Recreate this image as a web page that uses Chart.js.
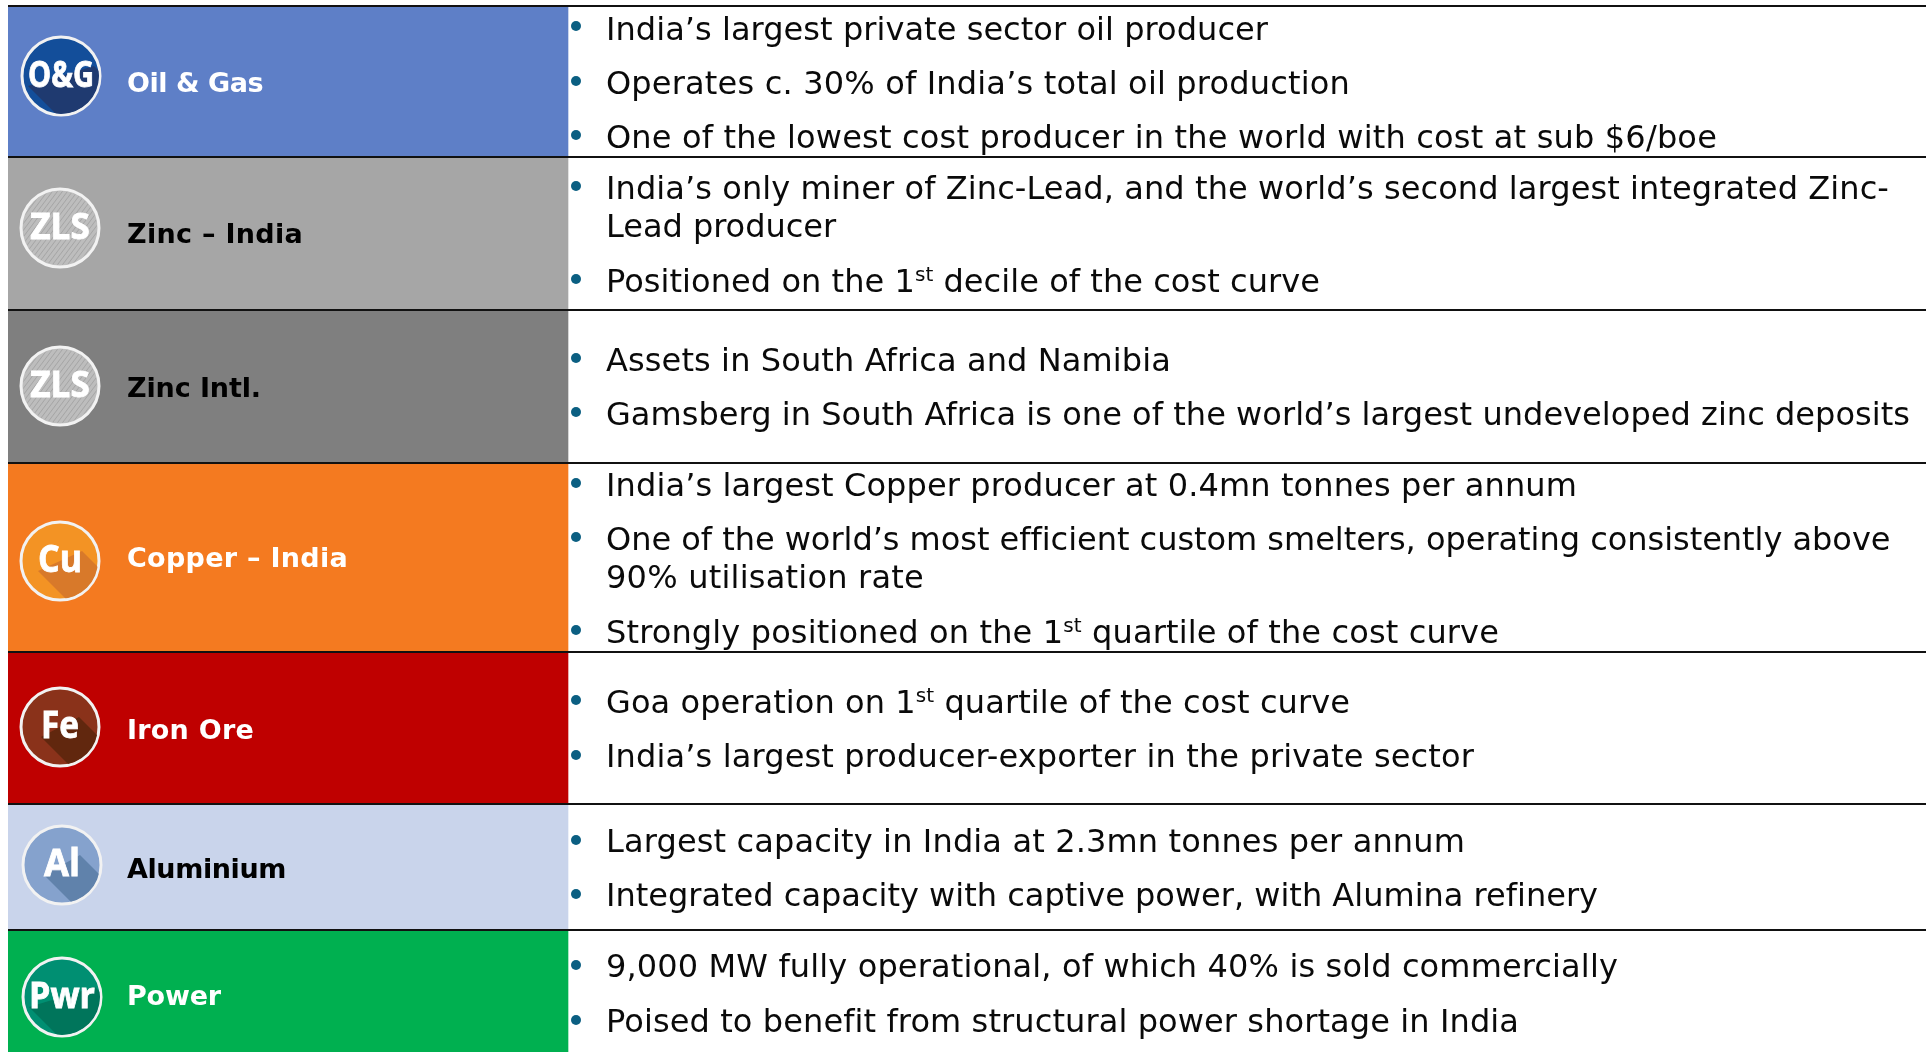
<!DOCTYPE html>
<html>
<head>
<meta charset="utf-8">
<title>Business overview</title>
<script src="https://cdn.jsdelivr.net/npm/chart.js@4"></script>
<style>
  html,body{margin:0;padding:0;background:#fff;overflow:hidden}
  canvas{display:block}
</style>
</head>
<body>
<canvas id="panel" width="1926" height="1052"></canvas>
<script>
// rows
const rowNames = ['Oil & Gas','Zinc – India','Zinc Intl.','Copper – India','Iron Ore','Aluminium','Power'];
const iconCodes = ['O&G','ZLS','ZLS','Cu','Fe','Al','Pwr'];
const rowEdges = [6,157,310,463,652,804,930,1052];

// bullet text, ^st^ marks a superscript
const bodyLines = [
  'India’s largest private sector oil producer',
  'Operates c. 30% of India’s total oil production',
  'One of the lowest cost producer in the world with cost at sub $6/boe',
  'India’s only miner of Zinc-Lead, and the world’s second largest integrated Zinc-',
  'Lead producer',
  'Positioned on the 1^st^ decile of the cost curve',
  'Assets in South Africa and Namibia',
  'Gamsberg in South Africa is one of the world’s largest undeveloped zinc deposits',
  'India’s largest Copper producer at 0.4mn tonnes per annum',
  'One of the world’s most efficient custom smelters, operating consistently above',
  '90% utilisation rate',
  'Strongly positioned on the 1^st^ quartile of the cost curve',
  'Goa operation on 1^st^ quartile of the cost curve',
  'India’s largest producer-exporter in the private sector',
  'Largest capacity in India at 2.3mn tonnes per annum',
  'Integrated capacity with captive power, with Alumina refinery',
  '9,000 MW fully operational, of which 40% is sold commercially',
  'Poised to benefit from structural power shortage in India'
];

// layout, in scale units (1 unit = 1px)
const bodyBaselines = [40,94,148,199,237,292,371,425,496,550,588,643,713,767,852,906,977,1032];
const bodyEnds = [1268,1350,1717,1889,836,1320,1171,1910,1577,1890,924,1499,1350,1474,1465,1598,1618,1519];
const bulletRows = [26,81,135,186,279,358,412,483,537,630,700,755,840,894,965,1020];
const labelBaselines = [92,243,397,567,739,878,1005];
const labelEnds = [263,303,261,348,254,286,221];
const iconX = [61,60,60,60,60,62,62];
const iconY = [76,228,386,561,727,865,997];
const iconWidths = [66,60,60,44,38,36,66];

const rowColors = ['#5e7fc7','#a6a6a6','#7f7f7f','#f47a20','#bf0000','#c9d4eb','#00b050'];
const labelColors = ['#fff','#000','#000','#fff','#fff','#000','#fff'];
const iconColors = ['#134e9a','#bdbdbd','#bdbdbd','#f39324','#8a321a','#85a2cd','#008f72'];
const shadowColors = ['#1f3a70',null,null,'#d8792a','#61270e','#6082ab','#00755b'];

const PANEL_LEFT = 8, PANEL_RIGHT = 568, TEXT_X = 606, LABEL_X = 127, BULLET_X = 576;
const BODY_FONT = 32, LABEL_FONT = 27, ICON_R = 39;

function bodyFont(sup){
  return (sup ? 20 : BODY_FONT)+'px "DejaVu Sans"';
}

// draws one line so that it ends where the reference line ends
function drawBodyLine(ctx, line, x, y, end){
  const parts = line.split('^');
  let natural = 0, chars = 0;
  ctx.letterSpacing = '0px';
  parts.forEach((p,i)=>{
    ctx.font = bodyFont(i%2===1);
    natural += ctx.measureText(p).width;
    chars += p.length;
  });
  ctx.letterSpacing = ((end-x-natural)/chars)+'px';
  parts.forEach((p,i)=>{
    const sup = i%2===1;
    ctx.font = bodyFont(sup);
    ctx.fillText(p, x, sup ? y-BODY_FONT*0.34 : y);
    x += ctx.measureText(p).width;
  });
  ctx.letterSpacing = '0px';
}

function drawCoin(ctx, cx, cy){
  // scratched silver coin behind the ZLS code
  ctx.save();
  ctx.beginPath(); ctx.arc(cx,cy,ICON_R-2,0,Math.PI*2); ctx.clip();
  ctx.strokeStyle='rgba(120,120,120,0.35)'; ctx.lineWidth=1;
  for(let d=-60;d<60;d+=5){
    ctx.beginPath(); ctx.moveTo(cx+d-30,cy+40); ctx.lineTo(cx+d+30,cy-40); ctx.stroke();
  }
  ctx.restore();
}

const textPlugin = {
  id:'textPlugin',
  afterDatasetsDraw(chart){
    const ctx = chart.ctx, xS = chart.scales.x, yS = chart.scales.y;
    ctx.save();
    ctx.textAlign='left'; ctx.textBaseline='alphabetic';

    rowNames.forEach((name,i)=>{
      const cx = xS.getPixelForValue(iconX[i]), cy = yS.getPixelForValue(iconY[i]);
      const code = iconCodes[i];
      const w = iconWidths[i];
      if(shadowColors[i]){
        ctx.save();
        ctx.beginPath(); ctx.arc(cx,cy,ICON_R-1,0,Math.PI*2); ctx.clip();
        ctx.fillStyle = shadowColors[i];
        ctx.beginPath();
        ctx.moveTo(cx+w/2,cy-10); ctx.lineTo(cx+w/2+70,cy+60);
        ctx.lineTo(cx-w/2+70,cy+80); ctx.lineTo(cx-w/2,cy+10);
        ctx.closePath(); ctx.fill();
        ctx.restore();
      } else {
        drawCoin(ctx,cx,cy);
      }
      ctx.textAlign='center';
      ctx.fillStyle='#fff'; ctx.strokeStyle='#fff'; ctx.lineWidth=0.8;
      ctx.font='bold '+(code.length>2 ? 35 : 37)+'px "Open Sans"';
      ctx.fillText(code,cx,cy+11,w);
      ctx.strokeText(code,cx,cy+11,w);
      ctx.textAlign='left';

      const lx = xS.getPixelForValue(LABEL_X);
      ctx.fillStyle=labelColors[i];
      ctx.font='bold '+LABEL_FONT+'px "DejaVu Sans"';
      ctx.letterSpacing = ((xS.getPixelForValue(labelEnds[i])-lx-ctx.measureText(name).width)/name.length)+'px';
      ctx.fillText(name,lx,yS.getPixelForValue(labelBaselines[i]));
      ctx.letterSpacing = '0px';
    });

    ctx.fillStyle='#0a0a0a';
    bodyLines.forEach((line,i)=>{
      drawBodyLine(ctx,line,xS.getPixelForValue(TEXT_X),yS.getPixelForValue(bodyBaselines[i]),xS.getPixelForValue(bodyEnds[i]));
    });
    ctx.restore();
  }
};

new Chart(document.getElementById('panel').getContext('2d'),{
  type:'bar',
  data:{
    datasets:[
      { type:'scatter', data:bulletRows.map(y=>({x:BULLET_X,y})), pointRadius:5, pointHoverRadius:5,
        backgroundColor:'#0b5f82', borderWidth:0, order:0 },
      { type:'scatter', data:iconX.map((x,i)=>({x,y:iconY[i]})), pointRadius:ICON_R, pointHoverRadius:ICON_R,
        backgroundColor:iconColors, borderColor:'#f2f2f2', borderWidth:3, order:1 },
      { type:'bar', data:rowNames.map((n,i)=>({x:(PANEL_LEFT+PANEL_RIGHT)/2,y:[rowEdges[i],rowEdges[i+1]]})),
        backgroundColor:rowColors, barThickness:PANEL_RIGHT-PANEL_LEFT, borderWidth:0, order:2 }
    ]
  },
  options:{
    responsive:false, animation:false,
    layout:{ autoPadding:false, padding:{left:PANEL_LEFT,right:0,top:0,bottom:0} },
    plugins:{ legend:{display:false}, tooltip:{enabled:false} },
    events:[],
    scales:{
      x:{ type:'linear', offset:false, min:PANEL_LEFT, max:1926, display:false },
      y:{ type:'linear', reverse:true, min:0, max:1052,
        afterFit(s){ s.width=0; },
        afterBuildTicks(s){ s.ticks = rowEdges.slice(0,-1).map(value=>({value})); },
        ticks:{display:false},
        border:{display:false},
        grid:{ color:'#111', lineWidth:2, drawTicks:false, z:1 } }
    }
  },
  plugins:[textPlugin]
});
</script>
</body>
</html>
